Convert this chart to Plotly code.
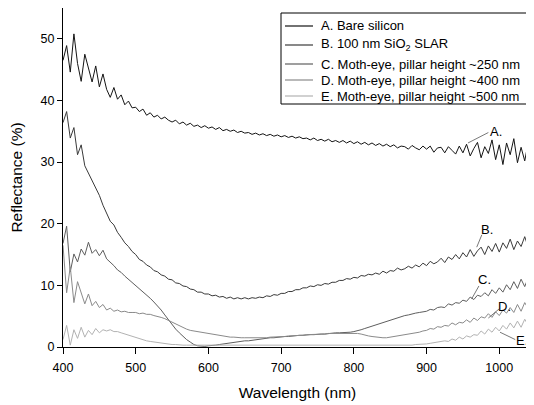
import plotly.graph_objects as go

# Wavelength grid (nm), 5 nm sampling
wavelength = list(range(400, 1050, 5))

# A. Bare silicon
refl_a = [
    46.5, 48.9, 44.6, 50.8, 46.0, 43.1, 47.5, 45.2, 43.0, 45.6,
    42.2, 44.3, 41.8, 40.5, 42.1, 40.2, 40.9, 39.3, 39.9, 38.8,
    38.9, 38.2, 38.6, 37.6, 38.0, 37.3, 37.6, 37.0, 37.3, 36.8,
    36.5, 36.8, 36.2, 36.5, 36.0, 36.3, 35.8, 36.0, 35.6, 35.9,
    35.5, 35.7, 35.3, 35.6, 35.1, 35.3, 35.0, 35.2, 34.8, 35.0,
    34.7, 34.8, 34.5, 34.7, 34.4, 34.6, 34.3, 34.5, 34.2, 34.4,
    34.1, 34.3, 34.0, 34.2, 33.9, 34.1, 33.8, 33.9, 33.6, 33.9,
    33.5, 33.7, 33.4, 33.7, 33.3, 33.5, 33.2, 33.5, 33.1, 33.4,
    33.0, 33.3, 32.9, 33.2, 32.8, 33.1, 32.7, 33.0, 32.6, 32.9,
    32.5, 32.8, 32.3, 32.6, 32.5, 32.1, 32.7, 32.3, 32.0, 32.6,
    32.1, 32.6, 31.6, 32.3, 32.4, 31.5, 32.5, 31.9, 31.3, 32.6,
    31.5, 32.9, 31.0, 32.2, 33.2, 30.7, 32.5, 31.4, 33.6, 30.4,
    32.8, 29.6, 33.1, 31.2, 33.8, 29.9, 32.4, 30.2, 33.3, 31.0,
]

# B. 100 nm SiO2 SLAR
refl_b = [
    36.4, 38.2, 33.9, 35.6, 31.2, 32.8, 29.4, 28.2, 27.0, 26.0,
    24.6, 23.0, 21.6, 20.4, 19.8, 18.6, 17.8, 16.9, 16.3, 15.5,
    15.0, 14.2, 13.9, 13.3, 13.0, 12.4, 12.2, 11.7, 11.5, 11.0,
    10.9, 10.4, 10.3, 9.9, 9.8, 9.4, 9.3, 8.9, 8.9, 8.6,
    8.6, 8.3, 8.4, 8.1, 8.2, 7.9, 8.1, 7.8, 8.0, 7.8,
    8.0, 7.8, 8.0, 7.9, 8.1, 8.0, 8.3, 8.2, 8.5, 8.4,
    8.7, 8.7, 9.0, 9.0, 9.3, 9.3, 9.6, 9.6, 9.9, 9.8,
    10.1, 10.0, 10.3, 10.2, 10.5, 10.5, 10.8, 10.8, 11.1, 11.0,
    11.3, 11.2, 11.6, 11.5, 11.8, 11.7, 12.0, 11.8, 12.3, 12.0,
    12.4, 12.3, 12.8, 12.5, 12.7, 13.1, 12.8, 13.3, 13.0, 13.6,
    13.2, 13.9, 13.5, 13.8, 14.4, 13.7, 14.6, 14.2, 15.0, 14.3,
    15.3, 14.6, 15.8, 14.7, 15.6, 16.2, 15.0, 16.4, 15.5, 16.8,
    15.4, 16.9, 16.0, 17.5, 15.8, 17.2, 16.3, 17.9, 16.1, 17.4,
]

# C. Moth-eye, pillar height ~250 nm
refl_c = [
    16.8, 19.6, 12.2, 15.1, 13.8, 15.9, 14.9, 17.0, 15.2, 15.8,
    14.8, 15.7, 14.3, 13.8, 13.2, 12.5, 12.1, 11.5, 11.0, 10.5,
    10.0, 9.5, 9.0, 8.4, 7.9, 7.3, 6.7, 6.0, 5.2, 4.4,
    3.6, 2.9, 2.3, 1.7, 1.2, 0.8, 0.4, 0.2, 0.1, 0.1,
    0.2, 0.2, 0.3, 0.4, 0.5, 0.5, 0.6, 0.7, 0.8, 0.9,
    1.0, 1.0, 1.1, 1.2, 1.3, 1.3, 1.4, 1.5, 1.5, 1.6,
    1.6, 1.7, 1.7, 1.8, 1.8, 1.9, 1.9, 2.0, 2.0, 2.0,
    2.1, 2.1, 2.1, 2.2, 2.2, 2.3, 2.3, 2.3, 2.4, 2.4,
    2.5, 2.6, 2.8, 3.0, 3.2, 3.4, 3.6, 3.8, 4.0, 4.2,
    4.4, 4.6, 4.7, 4.9, 5.1, 5.2, 5.4, 5.5, 5.6, 5.7,
    5.8, 6.1, 6.0, 6.4, 6.5, 6.4, 7.0, 6.8, 7.2, 7.1,
    7.6, 7.4, 8.1, 7.7, 8.4, 8.2, 8.8, 8.3, 9.3, 8.7,
    9.6, 8.9, 10.1, 9.3, 10.6, 9.5, 11.0, 9.8, 11.3, 10.2,
]

# D. Moth-eye, pillar height ~400 nm
refl_d = [
    16.5, 8.8, 13.0, 7.2, 10.6, 8.9, 7.0, 8.6, 6.7, 7.4,
    6.4, 6.9, 6.0, 6.3, 5.8, 6.0, 5.7, 5.8, 5.6, 5.6,
    5.6, 5.4, 5.5, 5.3, 5.3, 5.1, 5.0, 4.8, 4.6, 4.3,
    4.0, 3.7, 3.4, 3.1, 2.9, 2.7, 2.6, 2.4, 2.3, 2.2,
    2.1, 2.0, 1.9, 1.8, 1.7, 1.7, 1.6, 1.6, 1.5, 1.5,
    1.5, 1.5, 1.4, 1.4, 1.4, 1.5, 1.5, 1.6, 1.6, 1.7,
    1.7, 1.7, 1.8, 1.8, 1.8, 1.9, 1.9, 2.0, 2.0, 2.0,
    2.1, 2.1, 2.1, 2.2, 2.2, 2.2, 2.2, 2.3, 2.3, 2.3,
    2.3, 2.2, 2.1, 1.9, 1.8, 1.7, 1.6, 1.5, 1.5, 1.5,
    1.6, 1.6, 1.7, 1.8, 1.9, 2.0, 2.1, 2.3, 2.4, 2.6,
    2.7, 3.0, 2.9, 3.3, 3.2, 3.5, 3.4, 3.9, 3.6, 4.0,
    3.9, 4.4, 4.0, 4.7, 4.3, 4.9, 4.7, 5.4, 4.8, 5.7,
    5.1, 6.0, 5.5, 6.4, 5.6, 6.9, 5.8, 7.2, 6.2, 6.9,
]

# E. Moth-eye, pillar height ~500 nm
refl_e = [
    1.2, 3.5, 0.3, 2.8, 1.4, 3.2, 1.6, 2.7, 2.0, 3.0,
    2.3, 2.8, 2.6, 2.8, 2.5, 2.5, 2.3, 2.1, 2.0, 1.8,
    1.6, 1.4, 1.2, 1.0, 0.9, 0.8, 0.7, 0.6, 0.5, 0.5,
    0.4, 0.4, 0.3, 0.3, 0.3, 0.3, 0.3, 0.3, 0.3, 0.3,
    0.3, 0.2, 0.3, 0.3, 0.2, 0.3, 0.3, 0.3, 0.2, 0.3,
    0.3, 0.3, 0.2, 0.3, 0.3, 0.3, 0.3, 0.2, 0.3, 0.3,
    0.3, 0.3, 0.3, 0.2, 0.3, 0.3, 0.3, 0.3, 0.3, 0.2,
    0.3, 0.3, 0.3, 0.3, 0.2, 0.3, 0.3, 0.3, 0.3, 0.3,
    0.2, 0.3, 0.3, 0.3, 0.3, 0.2, 0.3, 0.3, 0.3, 0.3,
    0.3, 0.3, 0.2, 0.3, 0.3, 0.3, 0.3, 0.4, 0.4, 0.5,
    0.5, 0.6, 0.7, 0.8, 0.8, 1.0, 0.9, 1.3, 1.1, 1.6,
    1.3, 1.8, 1.6, 2.0, 1.9, 2.6, 2.1, 2.9, 2.4, 3.2,
    2.6, 3.5, 2.9, 3.9, 3.1, 4.2, 3.2, 4.5, 3.5, 4.0,
]

series_names = [
    "A. Bare silicon",
    "B. 100 nm SiO<sub>2</sub> SLAR",
    "C. Moth-eye, pillar height ~250 nm",
    "D. Moth-eye, pillar height ~400 nm",
    "E. Moth-eye, pillar height ~500 nm",
]
series_values = [refl_a, refl_b, refl_c, refl_d, refl_e]
series_colors = ["#141414", "#3a3a3a", "#5e5e5e", "#8a8a8a", "#b2b2b2"]

# Curve labels: text position and leader line (curve point -> label)
label_text = ["A.", "B.", "C.", "D.", "E."]
label_x = [996, 983, 979, 1007, 1031]
label_y = [35.0, 19.1, 10.9, 6.5, 1.0]
leader_x0 = [957, 969, 962, 985, 1001]
leader_y0 = [33.1, 16.2, 7.8, 4.7, 2.4]
leader_x1 = [985, 976, 972, 1000, 1022]
leader_y1 = [34.8, 18.2, 9.9, 6.2, 1.2]

x_ticks = [400, 500, 600, 700, 800, 900, 1000]
y_ticks = [0, 10, 20, 30, 40, 50]

FONT = "Arial, Liberation Sans, sans-serif"

# The page body adds an 8 px offset, so the figure is sized to end at the window edge.
OFF = 8
W, H = 534 - OFF, 405 - OFF
ML, MR, MT, MB = 55, 2, 0, 58
# plot area in window pixels
PL, PR, PT, PB = OFF + ML, OFF + W - MR, OFF + MT, OFF + H - MB


def px_x(px):
    return (px - PL) / (PR - PL)


def px_y(py):
    return (PB - py) / (PB - PT)


fig = go.Figure()
for name, vals, col in zip(series_names, series_values, series_colors):
    fig.add_trace(go.Scatter(
        x=wavelength, y=vals, mode="lines", name=name,
        line=dict(color=col, width=1.0), showlegend=False,
    ))

# curve labels
for t, lx, ly in zip(label_text, label_x, label_y):
    fig.add_annotation(x=lx, y=ly, text=t, showarrow=False,
                       font=dict(family=FONT, size=13, color="black"))
for x0, y0, x1, y1 in zip(leader_x0, leader_y0, leader_x1, leader_y1):
    fig.add_shape(type="line", x0=x0, y0=y0, x1=x1, y1=y1,
                  line=dict(color="#555555", width=0.8))

# legend box (drawn)
legend_rows = [26, 45, 64, 80, 96]
fig.add_shape(type="rect", xref="paper", yref="paper",
              x0=px_x(281), x1=px_x(527), y0=px_y(104), y1=px_y(13),
              line=dict(color="black", width=1), fillcolor="white", layer="above")
for name, col, ry in zip(series_names, series_colors, legend_rows):
    fig.add_shape(type="line", xref="paper", yref="paper",
                  x0=px_x(285), x1=px_x(313), y0=px_y(ry), y1=px_y(ry),
                  line=dict(color=col, width=1.2), layer="above")
    fig.add_annotation(xref="paper", yref="paper", x=px_x(319), y=px_y(ry),
                       xanchor="left", yanchor="middle", text=name,
                       showarrow=False,
                       font=dict(family=FONT, size=13, color="black"))

fig.update_layout(
    template="none",
    width=W, height=H,
    margin=dict(l=ML, r=MR, t=MT, b=MB, autoexpand=False),
    paper_bgcolor="white", plot_bgcolor="white",
    font=dict(family=FONT, size=12, color="black"),
    showlegend=False,
    xaxis=dict(
        range=[400, 1045], tickvals=x_ticks, ticks="outside", ticklen=6,
        tickcolor="black", showline=True, linecolor="black", linewidth=1,
        mirror=True, showgrid=False, zeroline=False, automargin=False,
        tickfont=dict(size=12.5), ticklabelstandoff=3,
        title=dict(text="Wavelength (nm)", font=dict(size=15.5), standoff=13),
    ),
    yaxis=dict(
        range=[0, 55], tickvals=y_ticks, ticks="outside", ticklen=5,
        tickcolor="black", showline=True, linecolor="black", linewidth=1,
        mirror=False, showgrid=False, zeroline=False, automargin=False,
        tickfont=dict(size=12.5),
        title=dict(text="Reflectance (%)", font=dict(size=15.5), standoff=17),
    ),
)

fig.write_html("out.html")
